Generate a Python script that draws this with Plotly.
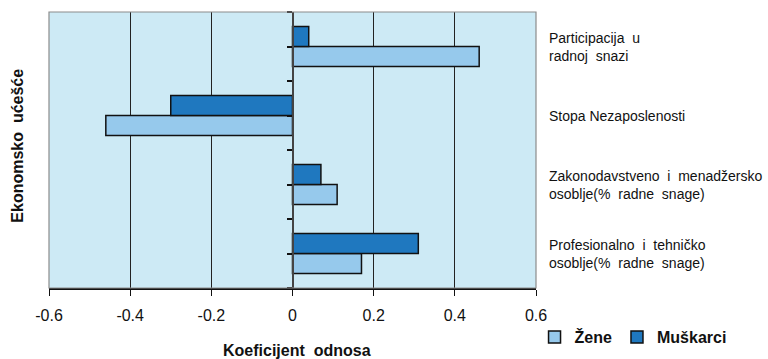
import plotly.graph_objects as go

# Categories listed bottom-to-top on the chart
categories = [
    "Profesionalno  i  tehničko<br>osoblje(%  radne  snage)",
    "Zakonodavstveno  i  menadžersko<br>osoblje(%  radne  snage)",
    "Stopa Nezaposlenosti",
    "Participacija  u<br>radnoj  snazi",
]
zene = [0.17, 0.11, -0.46, 0.46]
muskarci = [0.31, 0.07, -0.30, 0.04]
x_ticks = [-0.6, -0.4, -0.2, 0, 0.2, 0.4, 0.6]
x_tick_text = ["-0.6", "-0.4", "-0.2", "0", "0.2", "0.4", "0.6"]

positions = list(range(len(categories)))
FONT = "Liberation Sans, Arial, sans-serif"

fig = go.Figure()
fig.add_trace(go.Bar(
    name="Žene", y=positions, x=zene, orientation="h",
    marker=dict(color="#96C9EC", line=dict(color="#111111", width=1.5)),
))
fig.add_trace(go.Bar(
    name="Muškarci", y=positions, x=muskarci, orientation="h",
    marker=dict(color="#1F78BF", line=dict(color="#111111", width=1.5)),
))

annotations = []
for pos, label in zip(positions, categories):
    annotations.append(dict(
        xref="paper", yref="y", x=1.022, y=pos, text=label,
        xanchor="left", yanchor="middle", align="left", showarrow=False,
        font=dict(family=FONT, size=14, color="#111111"),
    ))
annotations.append(dict(
    xref="paper", yref="paper", x=0.51, y=-0.228, text="<b>Koeficijent  odnosa</b>",
    xanchor="center", yanchor="middle", showarrow=False,
    font=dict(family=FONT, size=16, color="#111111"),
))
annotations.append(dict(
    xref="paper", yref="paper", x=-0.064, y=0.515, text="<b>Ekonomsko  ućešće</b>",
    textangle=-90, xanchor="center", yanchor="middle", showarrow=False,
    font=dict(family=FONT, size=16, color="#111111"),
))

fig.update_layout(
    width=768, height=359,
    margin=dict(l=49, r=232, t=12, b=71, autoexpand=False),
    paper_bgcolor="white", plot_bgcolor="#CDEAF5",
    barmode="group", bargap=0.42, bargroupgap=0,
    font=dict(family=FONT, color="#111111"),
    showlegend=True,
    legend=dict(
        orientation="h", x=0.997, xanchor="left", y=-0.178, yanchor="middle",
        font=dict(family=FONT, size=16, color="#111111", weight="bold"),
        itemwidth=30, tracegroupgap=0, bgcolor="rgba(0,0,0,0)",
        traceorder="normal",
    ),
    annotations=annotations,
    xaxis=dict(
        range=[-0.6, 0.6], tickvals=x_ticks, ticktext=x_tick_text,
        showgrid=True, gridcolor="#222222", gridwidth=1,
        zeroline=True, zerolinecolor="#444444", zerolinewidth=1.5,
        showline=True, linecolor="#111111", linewidth=1.5,
        ticks="outside", ticklen=6, tickcolor="#111111", tickwidth=1,
        tickfont=dict(family=FONT, size=16, color="#111111"),
        ticklabelstandoff=6, fixedrange=True,
    ),
    yaxis=dict(
        range=[-0.5, 3.5], anchor="free", position=0.5,
        tickvals=[-0.5, 0.5, 1.5, 2.5, 3.5], showticklabels=False,
        ticks="outside", ticklen=5, tickcolor="#111111", tickwidth=1.5,
        minor=dict(tickvals=positions, ticks="outside", ticklen=5,
                   tickcolor="#111111", tickwidth=1.5),
        showgrid=False, zeroline=False,
        showline=True, linecolor="#444444", linewidth=1.5,
        fixedrange=True,
    ),
    shapes=[dict(
        type="rect", xref="paper", yref="paper", x0=0, x1=1, y0=0, y1=1,
        line=dict(color="#8C8C8C", width=1.2), layer="above",
    )],
)

fig.write_html("out.html")
